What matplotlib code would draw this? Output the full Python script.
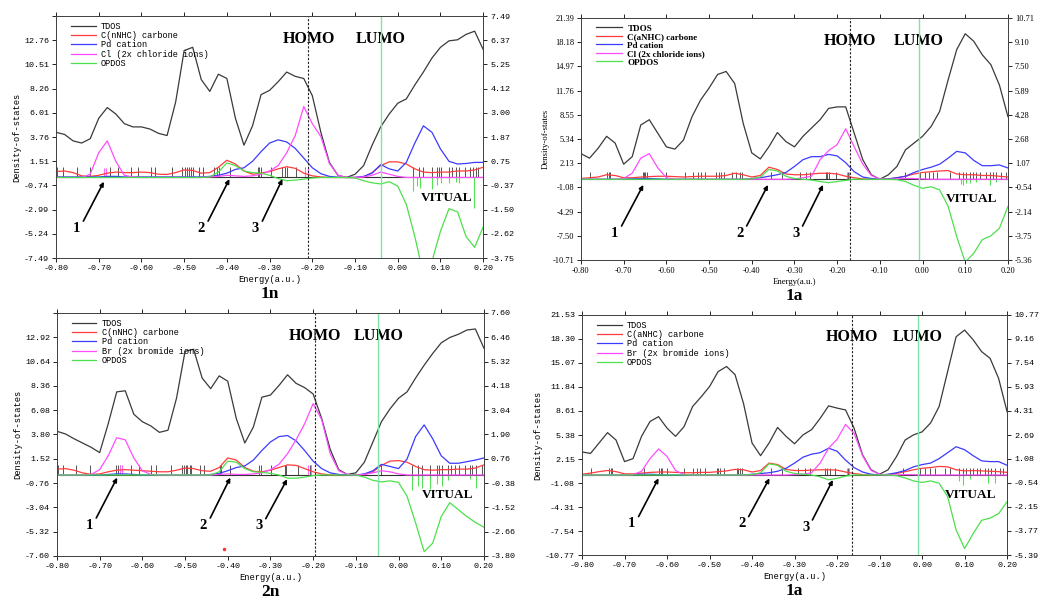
"""Four DOS / OPDOS panels (1n, 1a, 2n, 1a) with HOMO/LUMO markers."""

import matplotlib
matplotlib.use("Agg")
import matplotlib.pyplot as plt
import numpy as np

# common energy grid (a.u.), one reading every 0.02
ENERGY = np.round(np.linspace(-0.80, 0.20, 51), 2)

# ---------------- 1n (top left) ----------------
TDOS_1N = [4.2, 4.0, 3.4, 3.2, 3.6, 5.5, 6.5, 5.9, 5.0, 4.7,
           4.7, 4.5, 4.1, 3.9, 7.0, 11.8, 12.1, 9.1, 8.0, 9.6,
           9.2, 5.5, 3.0, 4.8, 7.7, 8.1, 8.9, 9.8, 9.4, 9.2,
           7.6, 4.2, 1.4, 0.2, 0.0, 0.3, 1.1, 3.0, 4.7, 5.9,
           6.9, 7.3, 8.6, 9.8, 11.1, 12.1, 12.7, 12.8, 13.3, 13.6,
           11.9]
CARB_1N = [0.55, 0.6, 0.45, 0.15, 0.1, 0.2, 0.4, 0.5, 0.45, 0.45,
           0.5, 0.45, 0.3, 0.28, 0.45, 0.7, 0.65, 0.4, 0.45, 0.95,
           1.6, 1.25, 0.6, 0.3, 0.4, 0.55, 0.8, 1.0, 0.85, 0.4,
           0.15, 0.05, 0.0, 0.0, 0.0, 0.0, 0.05, 0.45, 1.1, 1.45,
           1.45, 1.25, 0.8, 0.5, 0.45, 0.5, 0.5, 0.6, 0.6, 0.7,
           0.95]
PD_1N = [0.05, 0.05, 0.05, 0.05, 0.05, 0.05, 0.1, 0.1, 0.05, 0.05,
         0.05, 0.05, 0.05, 0.05, 0.05, 0.05, 0.05, 0.05, 0.1, 0.2,
         0.4, 0.75, 0.9, 1.5, 2.4, 3.2, 3.5, 3.3, 2.7, 1.8,
         0.9, 0.35, 0.1, 0.02, 0.0, 0.0, 0.1, 0.4, 1.2, 0.8,
         0.6, 1.4, 3.2, 4.8, 4.2, 2.65, 1.5, 1.25, 1.3, 1.4,
         1.4]
HAL_1N = [0.0, 0.0, 0.0, 0.0, 0.3, 2.3, 3.4, 1.5, 0.2, 0.05,
          0.0, 0.0, 0.0, 0.0, 0.0, 0.0, 0.0, 0.0, 0.05, 0.1,
          0.2, 0.15, 0.1, 0.15, 0.3, 0.6, 1.1, 2.3, 3.9, 6.6,
          5.0, 3.8, 1.3, 0.2, 0.0, 0.0, 0.05, 0.2, 0.5, 0.3,
          0.1, 0.0, 0.0, 0.0, 0.0, 0.0, 0.0, 0.0, 0.0, 0.0,
          0.0]
OPDOS_1N = [0.0, 0.0, 0.0, 0.0, 0.0, 0.0, 0.0, 0.0, 0.0, 0.0,
            0.0, 0.0, 0.0, 0.0, 0.0, 0.0, 0.0, 0.0, 0.05, 0.5,
            1.35, 1.1, 0.6, 0.45, 0.4, 0.2, -0.1, -0.3, -0.25, -0.15,
            -0.05, 0.0, 0.0, 0.0, 0.0, -0.05, -0.3, -0.5, -0.6, -0.4,
            -0.8, -2.5, -5.5, -9.0, -7.8, -5.0, -2.9, -3.2, -5.5, -6.5,
            -4.6]
LEVELS_1N = [-0.797, -0.784, -0.752, -0.720, -0.674, -0.654, -0.625, -0.607,
             -0.578, -0.568, -0.529, -0.504, -0.498, -0.493, -0.488, -0.483,
             -0.479, -0.465, -0.455, -0.429, -0.422, -0.418, -0.393, -0.328,
             -0.324, -0.320, -0.297, -0.270, -0.263, -0.259, -0.239, -0.217,
             -0.210, -0.040, 0.036, 0.050, 0.060, 0.079, 0.091, 0.097, 0.102,
             0.120, 0.128, 0.136, 0.144, 0.157, 0.169, 0.175, 0.183, 0.188]
HAL_LEVELS_1N = [-0.687, -0.682, -0.216, -0.209]
VIRT_LEVELS_1N = [0.036, 0.046, 0.052, 0.079, 0.091, 0.102, 0.120, 0.136, 0.144, 0.178]
VIRT_DEPTH_1N = [-1.3, -0.8, -1.0, -1.1, -0.7, -0.5, -0.5, -0.4, -0.5, -2.8]
YTICKS_1N = [-7.49, -5.24, -2.99, -0.74, 1.51, 3.76, 6.01, 8.26, 10.51, 12.76, 15.01]
YLABELS_1N = ["-7.49", "-5.24", "-2.99", "-0.74", "1.51", "3.76", "6.01",
              "8.26", "10.51", "12.76", ""]
RTICKS_1N = [-3.75, -2.62, -1.50, -0.37, 0.75, 1.87, 3.00, 4.12, 5.25, 6.37, 7.49]
HOMO_1N, LUMO_1N = -0.209, -0.040
LEGEND_1N = ["TDOS", "C(nNHC) carbone", "Pd cation", "Cl (2x chloride ions)", "OPDOS"]

# ---------------- 1a (top right) ----------------
TDOS_1A = [3.4, 2.8, 4.1, 5.7, 4.8, 2.0, 3.0, 7.2, 7.9, 6.1,
           4.3, 4.0, 5.2, 8.3, 10.5, 12.1, 13.9, 14.3, 12.7, 7.4,
           3.5, 2.7, 4.3, 6.2, 5.0, 4.3, 5.7, 6.8, 7.9, 9.4,
           9.6, 9.6, 6.1, 2.6, 0.6, 0.0, 0.6, 1.7, 3.9, 4.8,
           5.7, 7.0, 9.0, 13.2, 17.2, 19.3, 18.3, 16.5, 15.2, 12.5,
           8.3]
CARB_1A = [0.1, 0.2, 0.3, 0.6, 0.5, 0.2, 0.2, 0.3, 0.35, 0.4,
           0.4, 0.35, 0.3, 0.35, 0.4, 0.4, 0.4, 0.5, 0.8, 0.6,
           0.3, 0.5, 1.6, 1.3, 0.7, 0.6, 0.6, 0.7, 0.8, 0.8,
           0.7, 0.4, 0.2, 0.05, 0.0, 0.0, 0.05, 0.2, 0.4, 0.7,
           0.9, 1.0, 1.1, 1.15, 0.7, 0.6, 0.6, 0.5, 0.5, 0.4,
           0.3]
PD_1A = [0.0, 0.0, 0.0, 0.0, 0.0, 0.0, 0.05, 0.1, 0.1, 0.05,
         0.0, 0.0, 0.0, 0.0, 0.0, 0.0, 0.0, 0.0, 0.0, 0.0,
         0.1, 0.2, 0.4, 0.6, 0.9, 1.7, 2.6, 3.0, 3.0, 3.3,
         3.1, 2.2, 1.0, 0.3, 0.1, 0.0, 0.05, 0.2, 0.4, 0.9,
         1.3, 1.6, 2.0, 2.8, 3.7, 3.5, 2.5, 1.8, 1.8, 1.9,
         1.5]
HAL_1A = [0.0, 0.0, 0.0, 0.0, 0.0, 0.1, 0.8, 2.8, 3.4, 1.5,
          0.2, 0.0, 0.0, 0.0, 0.0, 0.0, 0.0, 0.0, 0.0, 0.0,
          0.0, 0.0, 0.0, 0.0, 0.0, 0.05, 0.2, 0.4, 2.6, 3.8,
          4.6, 6.7, 4.3, 2.0, 0.5, 0.05, 0.0, 0.05, 0.1, 0.1,
          0.05, 0.0, 0.0, 0.0, 0.0, 0.0, 0.0, 0.0, 0.0, 0.0,
          0.0]
OPDOS_1A = [0.0, 0.0, 0.0, 0.0, 0.0, 0.0, 0.0, 0.0, 0.0, 0.0,
            0.0, 0.0, 0.0, 0.0, 0.0, 0.0, 0.0, 0.0, 0.0, 0.0,
            0.05, 0.3, 1.3, 1.1, 0.4, 0.1, 0.0, -0.1, -0.3, -0.45,
            -0.3, -0.15, 0.0, 0.0, 0.0, 0.0, 0.0, -0.05, -0.3, -0.8,
            -1.2, -1.0, -1.4, -3.6, -7.6, -11.0, -9.8, -8.0, -7.5, -6.5,
            -3.6]
LEVELS_1A = [-0.779, -0.738, -0.735, -0.732, -0.655, -0.652, -0.649, -0.646,
             -0.600, -0.557, -0.537, -0.527, -0.518, -0.510, -0.483, -0.477,
             -0.472, -0.465, -0.447, -0.437, -0.428, -0.424, -0.356, -0.330,
             -0.286, -0.272, -0.264, -0.227, -0.223, -0.219, -0.202, -0.174,
             -0.040, -0.007, 0.005, 0.015, 0.025, 0.035, 0.064, 0.085, 0.095,
             0.102, 0.110, 0.118, 0.126, 0.134, 0.149, 0.157, 0.165, 0.173,
             0.184, 0.196]
HAL_LEVELS_1A = [-0.177, -0.172]
VIRT_LEVELS_1A = [0.090, 0.095, 0.102, 0.110, 0.126, 0.157, 0.173]
VIRT_DEPTH_1A = [-0.6, -0.8, -0.5, -0.5, -0.4, -0.7, -0.4]
YTICKS_1A = [-10.71, -7.50, -4.29, -1.08, 2.13, 5.34, 8.55, 11.76, 14.97, 18.18, 21.39]
YLABELS_1A = ["-10.71", "-7.50", "-4.29", "-1.08", "2.13", "5.34", "8.55",
              "11.76", "14.97", "18.18", "21.39"]
RTICKS_1A = [-5.36, -3.75, -2.14, -0.54, 1.07, 2.68, 4.28, 5.89, 7.50, 9.10, 10.71]
HOMO_1A, LUMO_1A = -0.170, -0.008
LEGEND_1A = ["TDOS", "C(aNHC) carbone", "Pd cation", "Cl (2x chloride ions)", "OPDOS"]

# ---------------- 2n (bottom left) ----------------
TDOS_2N = [4.1, 3.85, 3.4, 3.0, 2.6, 2.1, 4.8, 7.8, 7.9, 5.7,
           5.0, 4.6, 4.0, 4.2, 7.2, 11.6, 11.8, 9.1, 8.1, 9.3,
           8.8, 5.3, 3.0, 4.5, 7.3, 7.5, 8.4, 9.4, 8.6, 8.2,
           7.6, 5.3, 2.4, 0.5, 0.05, 0.2, 1.2, 3.1, 5.0, 6.2,
           7.2, 7.8, 9.1, 10.3, 11.4, 12.4, 12.9, 13.2, 13.6, 13.7,
           11.9]
CARB_2N = [0.55, 0.6, 0.45, 0.2, 0.05, 0.1, 0.3, 0.45, 0.5, 0.45,
           0.4, 0.35, 0.3, 0.3, 0.45, 0.65, 0.6, 0.4, 0.35, 0.7,
           1.6, 1.4, 0.7, 0.35, 0.3, 0.45, 0.7, 0.95, 0.9, 0.6,
           0.3, 0.1, 0.0, 0.0, 0.0, 0.0, 0.05, 0.3, 0.9, 1.3,
           1.35, 1.2, 0.8, 0.5, 0.45, 0.5, 0.5, 0.55, 0.55, 0.65,
           0.95]
PD_2N = [0.0, 0.0, 0.0, 0.0, 0.0, 0.0, 0.05, 0.1, 0.1, 0.05,
         0.0, 0.0, 0.0, 0.0, 0.0, 0.0, 0.0, 0.0, 0.05, 0.15,
         0.4, 0.7, 0.85, 1.4, 2.3, 3.1, 3.6, 3.7, 3.2, 2.3,
         1.3, 0.6, 0.2, 0.05, 0.0, 0.0, 0.1, 0.4, 1.0, 0.8,
         0.6, 1.5, 3.6, 4.7, 3.4, 1.8, 1.1, 1.1, 1.25, 1.4,
         1.6]
HAL_2N = [0.0, 0.0, 0.0, 0.0, 0.05, 0.5, 1.8, 3.5, 3.3, 1.6,
          0.4, 0.05, 0.0, 0.0, 0.0, 0.0, 0.0, 0.0, 0.0, 0.05,
          0.1, 0.05, 0.05, 0.1, 0.2, 0.5, 1.0, 2.0, 3.3, 4.8,
          6.7, 5.2, 2.0, 0.4, 0.05, 0.0, 0.05, 0.2, 0.4, 0.3,
          0.1, 0.0, 0.0, 0.0, 0.0, 0.0, 0.0, 0.0, 0.0, 0.0,
          0.0]
OPDOS_2N = [0.0, 0.0, 0.0, 0.0, 0.0, 0.0, 0.0, 0.0, 0.0, 0.0,
            0.0, 0.0, 0.0, 0.0, 0.0, 0.0, 0.0, 0.0, 0.0, 0.3,
            1.3, 1.2, 0.6, 0.3, 0.25, 0.15, 0.0, -0.3, -0.3, -0.2,
            -0.05, 0.0, 0.0, 0.0, 0.0, 0.0, -0.2, -0.5, -0.65, -0.55,
            -0.7, -2.0, -4.5, -7.2, -6.4, -3.9, -2.6, -3.25, -3.9, -4.45,
            -4.9]
LEVELS_2N = [-0.797, -0.786, -0.755, -0.723, -0.661, -0.657, -0.653, -0.626,
             -0.608, -0.579, -0.567, -0.532, -0.506, -0.502, -0.498, -0.495,
             -0.489, -0.485, -0.466, -0.456, -0.419, -0.415, -0.395, -0.327,
             -0.323, -0.298, -0.266, -0.263, -0.235, -0.208, -0.204, -0.041,
             0.032, 0.046, 0.056, 0.073, 0.089, 0.095, 0.101, 0.116, 0.124,
             0.132, 0.142, 0.155, 0.167, 0.173, 0.181, 0.195]
HAL_LEVELS_2N = [-0.652, -0.647, -0.212, -0.206]
VIRT_LEVELS_2N = [0.032, 0.046, 0.056, 0.073, 0.089, 0.101, 0.116, 0.167, 0.181]
VIRT_DEPTH_2N = [-1.4, -1.0, -1.2, -1.3, -0.8, -1.0, -0.5, -0.4, -1.2]
YTICKS_2N = [-7.60, -5.32, -3.04, -0.76, 1.52, 3.80, 6.08, 8.36, 10.64, 12.92, 15.20]
YLABELS_2N = ["-7.60", "-5.32", "-3.04", "-0.76", "1.52", "3.80", "6.08",
              "8.36", "10.64", "12.92", ""]
RTICKS_2N = [-3.80, -2.66, -1.52, -0.38, 0.76, 1.90, 3.04, 4.18, 5.32, 6.46, 7.60]
HOMO_2N, LUMO_2N = -0.195, -0.047
LEGEND_2N = ["TDOS", "C(nNHC) carbone", "Pd cation", "Br (2x bromide ions)", "OPDOS"]

# ---------------- 1a (bottom right) ----------------
TDOS_1AB = [3.1, 2.9, 4.3, 5.7, 4.7, 1.8, 2.2, 5.2, 7.2, 7.85,
            6.3, 5.2, 6.5, 9.2, 10.5, 11.9, 13.9, 14.6, 13.5, 9.6,
            4.3, 2.6, 4.3, 6.4, 5.2, 4.2, 5.4, 6.1, 7.6, 9.3,
            9.0, 8.75, 6.3, 2.7, 0.7, 0.1, 0.7, 2.5, 4.7, 5.4,
            5.8, 7.0, 9.2, 13.9, 18.6, 19.5, 18.2, 16.6, 15.7, 13.0,
            8.5]
CARB_1AB = [0.1, 0.25, 0.45, 0.6, 0.45, 0.15, 0.15, 0.25, 0.35, 0.4,
            0.4, 0.35, 0.3, 0.3, 0.35, 0.35, 0.45, 0.55, 0.75, 0.7,
            0.4, 0.6, 1.6, 1.4, 0.75, 0.6, 0.6, 0.65, 0.7, 0.7,
            0.65, 0.4, 0.2, 0.05, 0.0, 0.0, 0.05, 0.2, 0.45, 0.7,
            0.9, 1.0, 1.15, 1.1, 0.7, 0.55, 0.6, 0.55, 0.5, 0.45,
            0.35]
PD_1AB = [0.0, 0.0, 0.0, 0.0, 0.0, 0.0, 0.05, 0.1, 0.1, 0.05,
          0.0, 0.0, 0.0, 0.0, 0.0, 0.0, 0.0, 0.0, 0.0, 0.0,
          0.1, 0.2, 0.3, 0.5, 0.9, 1.6, 2.4, 2.8, 3.0, 3.6,
          3.2, 2.0, 1.0, 0.4, 0.1, 0.0, 0.1, 0.3, 0.6, 1.1,
          1.4, 1.6, 2.2, 3.0, 3.8, 3.4, 2.6, 1.9, 1.8, 1.8,
          1.3]
HAL_1AB = [0.0, 0.0, 0.0, 0.0, 0.0, 0.0, 0.05, 0.5, 2.2, 3.5,
           2.5, 0.6, 0.05, 0.0, 0.0, 0.0, 0.0, 0.0, 0.0, 0.0,
           0.0, 0.0, 0.0, 0.0, 0.0, 0.05, 0.1, 0.3, 1.6, 3.6,
           4.8, 6.8, 5.6, 2.6, 0.6, 0.1, 0.0, 0.0, 0.05, 0.05,
           0.0, 0.0, 0.0, 0.0, 0.0, 0.0, 0.0, 0.0, 0.0, 0.0,
           0.0]
OPDOS_1AB = [0.0, 0.0, 0.0, 0.0, 0.0, 0.0, 0.0, 0.0, 0.0, 0.0,
             0.0, 0.0, 0.0, 0.0, 0.0, 0.0, 0.0, 0.0, 0.0, 0.0,
             0.05, 0.3, 1.5, 1.3, 0.5, 0.2, 0.1, 0.0, -0.25, -0.65,
             -0.45, -0.15, 0.0, 0.0, 0.0, 0.0, 0.0, -0.1, -0.4, -0.8,
             -1.0, -0.8, -1.1, -2.9, -7.4, -9.9, -7.9, -6.1, -5.8, -5.2,
             -3.6]
LEVELS_1AB = [-0.779, -0.737, -0.733, -0.730, -0.655, -0.618, -0.614, -0.611,
              -0.600, -0.559, -0.538, -0.530, -0.522, -0.510, -0.483, -0.479,
              -0.475, -0.467, -0.436, -0.432, -0.428, -0.424, -0.356, -0.330,
              -0.291, -0.275, -0.264, -0.228, -0.224, -0.217, -0.205, -0.174,
              -0.044, -0.005, 0.007, 0.018, 0.030, 0.054, 0.065, 0.087, 0.097,
              0.104, 0.112, 0.120, 0.128, 0.136, 0.148, 0.155, 0.163, 0.171,
              0.183, 0.191]
HAL_LEVELS_1AB = [-0.177, -0.172]
VIRT_LEVELS_1AB = [0.087, 0.097, 0.112, 0.155, 0.171]
VIRT_DEPTH_1AB = [-0.8, -1.3, -0.6, -1.1, -1.1]
YTICKS_1AB = [-10.77, -7.54, -4.31, -1.08, 2.15, 5.38, 8.61, 11.84, 15.07, 18.30, 21.53]
YLABELS_1AB = ["-10.77", "-7.54", "-4.31", "-1.08", "2.15", "5.38", "8.61",
               "11.84", "15.07", "18.30", "21.53"]
RTICKS_1AB = [-5.39, -3.77, -2.15, -0.54, 1.08, 2.69, 4.31, 5.93, 7.54, 9.16, 10.77]
HOMO_1AB, LUMO_1AB = -0.164, -0.010
LEGEND_1AB = ["TDOS", "C(aNHC) carbone", "Pd cation", "Br (2x bromide ions)", "OPDOS"]

XTICKS = [-0.80, -0.70, -0.60, -0.50, -0.40, -0.30, -0.20, -0.10, 0.00, 0.10, 0.20]

COLORS = ["#3a3a3a", "#ff3b3b", "#3b3bff", "#ff4cff", "#4ce04c"]


def draw_panel(fig, rect, curves, levels, hal_levels, virt_levels, virt_depth,
               yticks, ylabels, rticks, homo, lumo, legend, marks, font, name):
    ax = fig.add_axes(rect)
    ax.set_xlim(-0.80, 0.20)
    ax.set_ylim(yticks[0], yticks[-1])

    # discrete levels as short sticks on the zero line
    ax.vlines(levels, 0, 0.95, color="#555555", lw=0.7, zorder=2)
    ax.vlines(hal_levels, 0, 0.9, color="#ff66ff", lw=0.8, zorder=2)
    ax.vlines(virt_levels, virt_depth, 0, color="#55e055", lw=0.8, zorder=2)

    for vals, col, lab in zip(curves, COLORS, legend):
        ax.plot(ENERGY, vals, color=col, lw=0.9, label=lab, zorder=3)

    ax.axhline(0, color="#333333", lw=0.8, zorder=2)
    ax.axvline(homo, color="#222222", lw=0.8, ls=(0, (2, 1.5)), zorder=4)
    ax.axvline(lumo, color="#7fe3a8", lw=1.0, zorder=4)

    ax.set_xticks(XTICKS)
    ax.set_xticklabels([f"{t:.2f}" for t in XTICKS], fontsize=6, family=font)
    ax.set_yticks(yticks)
    ax.set_yticklabels(ylabels, fontsize=6, family=font)
    ax.tick_params(direction="out", length=3, width=0.6, top=True, pad=2)
    ax.set_xlabel("Energy(a.u.)", fontsize=6.3, family=font, labelpad=2)
    ax.set_ylabel("Density-of-states", fontsize=6.3, family=font, labelpad=2)
    for sp in ax.spines.values():
        sp.set_linewidth(0.7)
        sp.set_color("#444444")

    rax = ax.twinx()
    rax.set_ylim(rticks[0], rticks[-1])
    rax.set_yticks(rticks)
    rax.set_yticklabels([f"{t:.2f}" for t in rticks], fontsize=6, family=font)
    rax.tick_params(direction="out", length=3, width=0.6, pad=2)
    for sp in rax.spines.values():
        sp.set_linewidth(0.7)
        sp.set_color("#444444")

    serif = font == "Liberation Serif"
    leg = ax.legend(loc="upper left", bbox_to_anchor=(0.02, 1.0), frameon=False,
                    handlelength=2.9, handletextpad=0.6, labelspacing=0.02,
                    borderaxespad=0.3,
                    prop={"family": font, "size": 6.5 if serif else 6.2,
                          "weight": "bold" if serif else "normal"})
    for line in leg.get_lines():
        line.set_linewidth(0.9)

    bold = {"family": "Liberation Serif", "weight": "bold"}
    top = yticks[-1]
    ax.text(homo, top * 0.86, "HOMO", ha="center", va="center", fontsize=11.5, **bold)
    ax.text(lumo, top * 0.86, "LUMO", ha="center", va="center", fontsize=11.5, **bold)
    ax.text(0.115, yticks[0] * 0.25, "VITUAL", ha="center", va="center", fontsize=9.5, **bold)

    for num, (tx, ty, hx, hy) in zip(["1", "2", "3"], marks):
        ax.annotate("", xy=(hx, hy), xytext=(tx, ty),
                    arrowprops=dict(arrowstyle="-|>", color="black", lw=1.2,
                                    mutation_scale=6, shrinkA=0, shrinkB=0))
        ax.text(tx - 0.016, ty + yticks[0] * 0.09, num, ha="center", va="center",
                fontsize=10.5, **bold)

    fig.text(rect[0] + rect[2] / 2, rect[1] - 0.06, name, ha="center", va="center",
             fontsize=12.5, **bold)
    return ax


fig = plt.figure(figsize=(10.47, 6.04), dpi=100)

# arrow tails (x, y) and heads (x, y) in data units
MARKS_1N = [(-0.736, -4.06, -0.688, -0.4), (-0.444, -4.06, -0.394, -0.15), (-0.317, -4.06, -0.270, -0.15)]
MARKS_1A = [(-0.705, -6.2, -0.654, -0.75), (-0.412, -6.2, -0.362, -0.75), (-0.281, -6.2, -0.233, -0.75)]
MARKS_2N = [(-0.708, -4.04, -0.659, -0.25), (-0.441, -4.04, -0.394, -0.25), (-0.311, -4.1, -0.261, -0.4)]
MARKS_1AB = [(-0.667, -5.6, -0.620, -0.45), (-0.408, -5.6, -0.359, -0.45), (-0.258, -6.05, -0.210, -0.67)]

draw_panel(fig, [0.0535, 0.5728, 0.408, 0.4007],
           [TDOS_1N, CARB_1N, PD_1N, HAL_1N, OPDOS_1N], LEVELS_1N, HAL_LEVELS_1N,
           VIRT_LEVELS_1N, VIRT_DEPTH_1N, YTICKS_1N, YLABELS_1N, RTICKS_1N,
           HOMO_1N, LUMO_1N, LEGEND_1N, MARKS_1N, "Liberation Mono", "1n")
draw_panel(fig, [0.5549, 0.5695, 0.4078, 0.4007],
           [TDOS_1A, CARB_1A, PD_1A, HAL_1A, OPDOS_1A], LEVELS_1A, HAL_LEVELS_1A,
           VIRT_LEVELS_1A, VIRT_DEPTH_1A, YTICKS_1A, YLABELS_1A, RTICKS_1A,
           HOMO_1A, LUMO_1A, LEGEND_1A, MARKS_1A, "Liberation Serif", "1a")
ax_2n = draw_panel(fig, [0.0544, 0.0795, 0.4078, 0.4023],
                   [TDOS_2N, CARB_2N, PD_2N, HAL_2N, OPDOS_2N], LEVELS_2N, HAL_LEVELS_2N,
                   VIRT_LEVELS_2N, VIRT_DEPTH_2N, YTICKS_2N, YLABELS_2N, RTICKS_2N,
                   HOMO_2N, LUMO_2N, LEGEND_2N, MARKS_2N, "Liberation Mono", "2n")
draw_panel(fig, [0.5559, 0.0811, 0.406, 0.3974],
           [TDOS_1AB, CARB_1AB, PD_1AB, HAL_1AB, OPDOS_1AB], LEVELS_1AB, HAL_LEVELS_1AB,
           VIRT_LEVELS_1AB, VIRT_DEPTH_1AB, YTICKS_1AB, YLABELS_1AB, RTICKS_1AB,
           HOMO_1AB, LUMO_1AB, LEGEND_1AB, MARKS_1AB, "Liberation Mono", "1a")

# stray red dot present in the 2n panel
ax_2n.plot([-0.409], [-6.9], marker="o", ms=1.5, color="#ff3333", ls="none")

fig.savefig("out.png", dpi=100)
